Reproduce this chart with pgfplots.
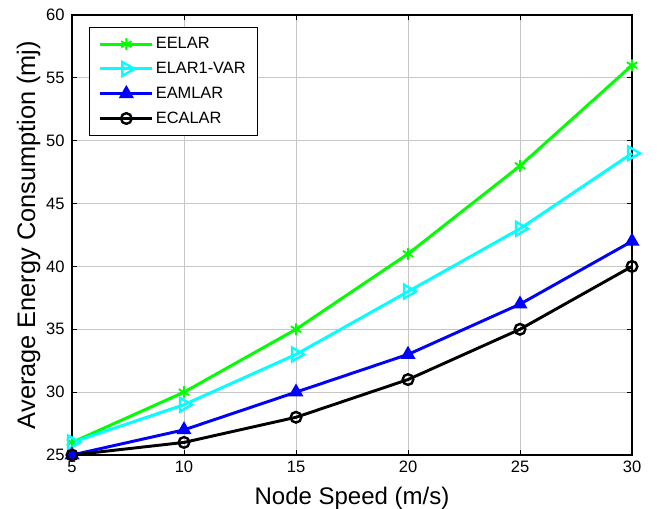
\documentclass[border=0pt]{standalone}
\usepackage{fontspec}
\setmainfont{Liberation Sans}
\usepackage{pgfplots}
\pgfplotsset{compat=1.18}
\definecolor{mgreen}{RGB}{0,255,0}
\definecolor{mcyan}{RGB}{0,255,255}
\definecolor{mblue}{RGB}{0,0,255}
\begin{document}
\begin{tikzpicture}
\useasboundingbox (0,0) rectangle (495pt,381.75pt);
\begin{axis}[
  at={(54pt,40.5pt)}, anchor=south west,
  scale only axis,
  width=420pt, height=330pt,
  xmin=5, xmax=30, ymin=25, ymax=60,
  xtick={5,10,...,30}, ytick={25,30,...,60},
  grid=major,
  major grid style={gray!45, line width=0.6pt},
  axis line style={line width=0.9pt},
  tick style={black, line width=0.6pt},
  tick align=inside,
  major tick length=4pt,
  ticklabel style={font=\fontsize{12.4}{13}\selectfont},
  xticklabel style={yshift=-1pt},
  yticklabel style={xshift=-2pt},
  /pgf/number format/assume math mode=true,
  xlabel={Node Speed (m/s)},
  ylabel={Average Energy Consumption (mj)},
  xlabel style={font=\fontsize{18}{19}\selectfont, at={(axis description cs:0.5,-0.1136)}, anchor=base},
  ylabel style={font=\fontsize{19}{20}\selectfont, at={(axis description cs:-0.066,0.5)}, anchor=base},
  legend style={font=\fontsize{12.3}{14}\selectfont, draw=black, line width=0.8pt, at={(axis description cs:0.0304,0.9727)}, anchor=north west, row sep=5.6pt, inner xsep=7pt, inner ysep=6pt, nodes={inner sep=1.5pt}},
  legend cell align=left,
  legend image code/.code={\draw[#1] (0pt,0pt) -- (39pt,0pt); \draw[#1, line width=1pt] plot coordinates {(19.5pt,0pt)};},
  every axis plot/.append style={line width=2.2pt},
  clip=false,
]
\addplot[color=mgreen, mark=asterisk, mark size=4.5pt, mark options={line width=1.4pt}] coordinates {(5,26) (10,30) (15,35) (20,41) (25,48) (30,56)};
\addplot[color=mcyan, mark=triangle, mark size=6pt, mark options={rotate=-90, line width=1.8pt}] coordinates {(5,26) (10,29) (15,33) (20,38) (25,43) (30,49)};
\addplot[color=mblue, mark=triangle*, mark size=5.5pt, mark options={line width=1pt}] coordinates {(5,25) (10,27) (15,30) (20,33) (25,37) (30,42)};
\addplot[color=black, mark=o, mark size=4pt, mark options={line width=1.8pt}] coordinates {(5,25) (10,26) (15,28) (20,31) (25,35) (30,40)};
\legend{EELAR, ELAR1-VAR, EAMLAR, ECALAR}
\end{axis}
\end{tikzpicture}
\end{document}
